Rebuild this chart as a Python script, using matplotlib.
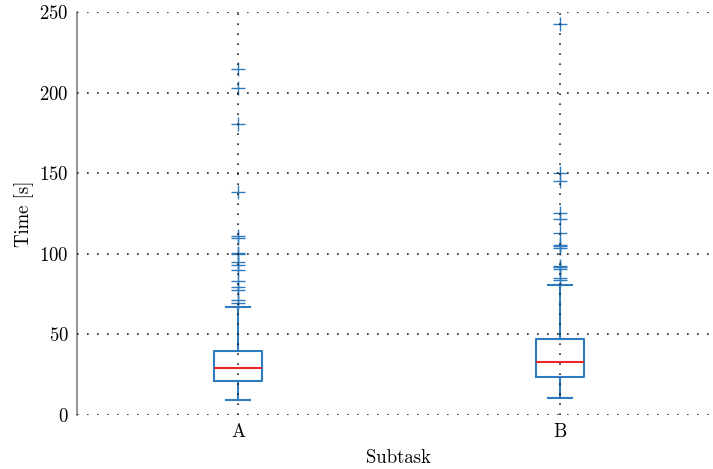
import matplotlib
matplotlib.use("Agg")
import matplotlib.pyplot as plt

# box statistics per subtask (seconds)
subtasks = ["A", "B"]
q1 = [20.7, 23.2]
medians = [28.6, 32.3]
q3 = [39.4, 47.1]
whisker_lo = [9.1, 10.2]
whisker_hi = [67.0, 80.4]
outliers_a = [214.5, 202.5, 180.3, 138.2, 110.8, 109.8, 100.5, 99.5, 94.7,
              92.9, 90.0, 82.7, 79.2, 77.5, 71.3, 69.2]
outliers_b = [242.3, 149.7, 144.9, 125.4, 121.4, 112.6, 105.3, 104.5, 103.7,
              92.5, 91.4, 90.2, 84.8, 83.8]
outliers = [outliers_a, outliers_b]

plt.rcParams["font.family"] = "cmr10"
plt.rcParams["mathtext.fontset"] = "cm"
plt.rcParams["axes.formatter.use_mathtext"] = True

BLUE = "#2f7bbf"
FS = 13.5

stats = []
for i, name in enumerate(subtasks):
    stats.append(dict(label=name, med=medians[i], q1=q1[i], q3=q3[i],
                      whislo=whisker_lo[i], whishi=whisker_hi[i],
                      fliers=outliers[i]))

fig = plt.figure(figsize=(7.13, 4.69), dpi=100)
ax = fig.add_axes([0.108, 0.1162, 0.903, 0.8582])

ax.bxp(stats, showfliers=True,
       boxprops=dict(color=BLUE, linewidth=1.5),
       whiskerprops=dict(color=BLUE, linewidth=1.5),
       capprops=dict(color=BLUE, linewidth=1.5),
       medianprops=dict(color="#e8262a", linewidth=1.5),
       flierprops=dict(marker="+", markeredgecolor=BLUE, markersize=10,
                       markeredgewidth=1.0, linestyle="none"))

ax.set_xlim(0.5, 2.5)
ax.set_ylim(0, 250)
ax.set_yticks([0, 50, 100, 150, 200, 250])
ax.grid(True, linestyle=(0, (1, 5)), color="#222222", linewidth=1.2)
ax.set_axisbelow(False)

for side in ("top", "right", "bottom"):
    ax.spines[side].set_visible(False)
ax.spines["left"].set_color("#808080")
ax.spines["left"].set_linewidth(1.2)
ax.tick_params(length=0, labelsize=FS)
ax.tick_params(axis="y", pad=6)
ax.tick_params(axis="x", pad=6)

ax.set_xlabel("Subtask", fontsize=FS, labelpad=6)
ax.set_ylabel("Time [s]", fontsize=FS, labelpad=4)

fig.savefig("out.png", dpi=100)
